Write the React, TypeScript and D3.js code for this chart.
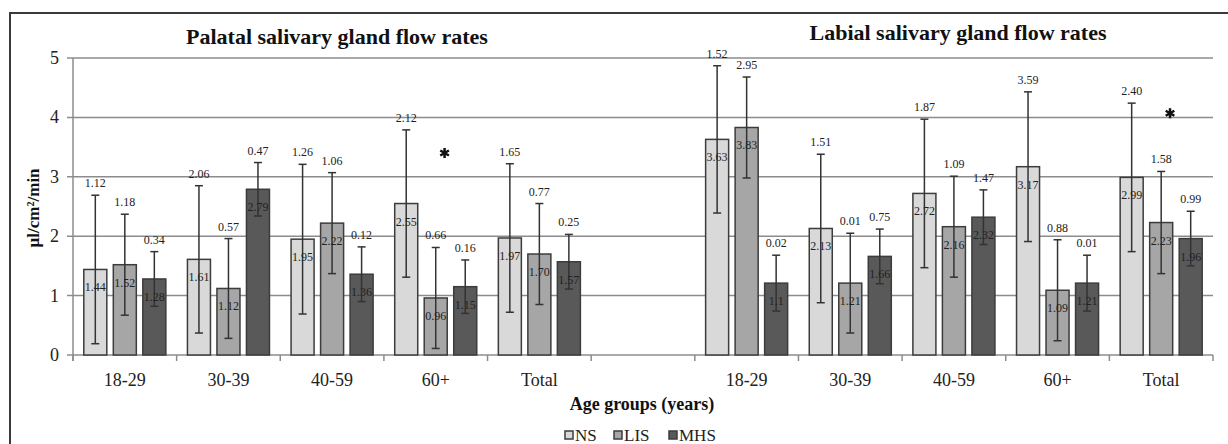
import React from "react";
import * as d3 from "d3";

const categories = ["18-29", "30-39", "40-59", "60+", "Total"];
const series = ["NS", "LIS", "MHS"];
const yTicks = [0, 1, 2, 3, 4, 5];

// Palatal
const palatalNS = [1.44, 1.61, 1.95, 2.55, 1.97];
const palatalLIS = [1.52, 1.12, 2.22, 0.96, 1.7];
const palatalMHS = [1.28, 2.79, 1.36, 1.15, 1.57];
const palatalNSErr = [1.25, 1.24, 1.26, 1.24, 1.25];
const palatalLISErr = [0.85, 0.84, 0.85, 0.85, 0.85];
const palatalMHSErr = [0.46, 0.45, 0.46, 0.45, 0.46];
const palatalNSSd = ["1.12", "2.06", "1.26", "2.12", "1.65"];
const palatalLISSd = ["1.18", "0.57", "1.06", "0.66", "0.77"];
const palatalMHSSd = ["0.34", "0.47", "0.12", "0.16", "0.25"];

// Labial
const labialNS = [3.63, 2.13, 2.72, 3.17, 2.99];
const labialLIS = [3.83, 1.21, 2.16, 1.09, 2.23];
const labialMHS = [1.21, 1.66, 2.32, 1.21, 1.96];
const labialNSErr = [1.24, 1.25, 1.25, 1.26, 1.25];
const labialLISErr = [0.85, 0.84, 0.85, 0.85, 0.86];
const labialMHSErr = [0.47, 0.46, 0.46, 0.47, 0.46];
const labialNSSd = ["1.52", "1.51", "1.87", "3.59", "2.40"];
const labialLISSd = ["2.95", "0.01", "1.09", "0.88", "1.58"];
const labialMHSSd = ["0.02", "0.75", "1.47", "0.01", "0.99"];
const labialMHSLabels = ["1.1", "1.66", "2.32", "1.21", "1.96"];

// significance markers: [panel, category, value]
const markers: [string, string, number][] = [
  ["P", "60+", 3.4],
  ["L", "Total", 4.07],
];

const colors = ["#d9d9d9", "#a6a6a6", "#595959"];

const W = 1228;
const H = 444;
const SERIF = "'Liberation Serif', 'Times New Roman', serif";

type Row = { key: string; cat: string; vals: number[]; errs: number[]; sds: string[]; labels: string[] };

function buildRows(prefix: string, a: number[], b: number[], c: number[], ea: number[], eb: number[], ec: number[], sa: string[], sb: string[], sc: string[], lc?: string[]): Row[] {
  return categories.map((cat, i) => ({
    key: prefix + ":" + cat,
    cat,
    vals: [a[i], b[i], c[i]],
    errs: [ea[i], eb[i], ec[i]],
    sds: [sa[i], sb[i], sc[i]],
    labels: [a[i].toFixed(2), b[i].toFixed(2), lc ? lc[i] : c[i].toFixed(2)],
  }));
}

const rows: Row[] = [
  ...buildRows("P", palatalNS, palatalLIS, palatalMHS, palatalNSErr, palatalLISErr, palatalMHSErr, palatalNSSd, palatalLISSd, palatalMHSSd),
  ...buildRows("L", labialNS, labialLIS, labialMHS, labialNSErr, labialLISErr, labialMHSErr, labialNSSd, labialLISSd, labialMHSSd, labialMHSLabels),
];
const slotKeys = [...categories.map((c) => "P:" + c), "gap", ...categories.map((c) => "L:" + c)];

export default function App() {
  const x = d3.scaleBand<string>().domain(slotKeys).range([73, 1213]).padding(0);
  const bw = x.bandwidth();
  const x1 = d3.scaleBand<string>().domain(series).range([0, bw]).paddingInner(0.22).paddingOuter(0.366);
  const y = d3.scaleLinear().domain([0, 5]).range([355, 58]);
  const barW = x1.bandwidth();
  const capW = 8;

  return (
    <svg width={W} height={H} style={{ position: "absolute", left: 0, top: 0, background: "#fff" }} fontFamily={SERIF}>
      <rect x={0} y={0} width={W} height={H} fill="#fff" />
      {/* outer frame */}
      <path d={`M10,${H + 5} L10,13 L${W + 5},13`} fill="none" stroke="#3a3a3a" strokeWidth={2} />

      {/* titles */}
      <text x={337} y={44} textAnchor="middle" fontSize={22} fontWeight="bold" fill="#111">
        Palatal salivary gland flow rates
      </text>
      <text x={958} y={40} textAnchor="middle" fontSize={22} fontWeight="bold" fill="#111">
        Labial salivary gland flow rates
      </text>

      {/* gridlines */}
      {yTicks.filter((t) => t > 0).map((t) => (
        <line key={t} x1={67} x2={1213} y1={y(t)} y2={y(t)} stroke="#8c8c8c" strokeWidth={1.5} />
      ))}
      {/* y axis */}
      <line x1={73} x2={73} y1={y(5)} y2={y(0) + 6} stroke="#8c8c8c" strokeWidth={1.5} />
      <line x1={67} x2={73} y1={y(0)} y2={y(0)} stroke="#8c8c8c" strokeWidth={1.5} />
      {yTicks.map((t) => (
        <text key={t} x={59} y={y(t) + 6} textAnchor="end" fontSize={18} fill="#222">
          {t}
        </text>
      ))}
      <text transform={`translate(39,208) rotate(-90)`} textAnchor="middle" fontSize={17} fontWeight="bold" fill="#111">
        µl/cm²/min
      </text>

      {/* x axis */}
      <line x1={73} x2={1213} y1={y(0)} y2={y(0)} stroke="#8c8c8c" strokeWidth={1.5} />
      {slotKeys.map((k) => (
        <line key={k} x1={x(k)!} x2={x(k)!} y1={y(0)} y2={y(0) + 6} stroke="#8c8c8c" strokeWidth={1.5} />
      ))}
      <line x1={1213} x2={1213} y1={y(0)} y2={y(0) + 6} stroke="#8c8c8c" strokeWidth={1.5} />

      {/* bars */}
      {rows.map((r) => (
        <g key={r.key} transform={`translate(${x(r.key)},0)`}>
          {series.map((s, i) => {
            const bx = x1(s)!;
            const cx = bx + barW / 2;
            const v = r.vals[i];
            const top = y(v + r.errs[i]);
            const bot = y(v - r.errs[i]);
            return (
              <g key={s}>
                <rect x={bx} y={y(v)} width={barW} height={y(0) - y(v)} fill={colors[i]} stroke="#3c3c3c" strokeWidth={1.5} />
                <line x1={cx} x2={cx} y1={top} y2={bot} stroke="#333" strokeWidth={1.5} />
                <line x1={cx - capW / 2} x2={cx + capW / 2} y1={top} y2={top} stroke="#333" strokeWidth={1.5} />
                <line x1={cx - capW / 2} x2={cx + capW / 2} y1={bot} y2={bot} stroke="#333" strokeWidth={1.5} />
                <text x={cx} y={top - 8} textAnchor="middle" fontSize={12} fill="#222">
                  {r.sds[i]}
                </text>
                <text x={cx} y={y(v) + 22} textAnchor="middle" fontSize={12} fill="#222">
                  {r.labels[i]}
                </text>
              </g>
            );
          })}
          <text x={bw / 2} y={386} textAnchor="middle" fontSize={18} fill="#222">
            {r.cat}
          </text>
        </g>
      ))}

      {/* significance markers */}
      {markers.map(([p, c, v]) => {
        const k = p + ":" + c;
        const mx = x(k)! + bw / 2 + x1.step() * 0.3;
        return (
          <path
            key={k}
            transform={`translate(${mx},${y(v)})`}
            d={d3.symbol(d3.symbolAsterisk, 70)()!}
            fill="none"
            stroke="#111"
            strokeWidth={2.5}
          />
        );
      })}

      {/* axis title */}
      <text x={642} y={410} textAnchor="middle" fontSize={18} fontWeight="bold" fill="#111">
        Age groups (years)
      </text>

      {/* legend */}
      {series.map((s, i) => {
        const lx = [565, 614, 669][i];
        return (
          <g key={s}>
            <rect x={lx} y={431} width={8} height={8} fill={colors[i]} stroke="#3c3c3c" strokeWidth={1.5} />
            <text x={lx + 10} y={441} fontSize={17} fill="#222">
              {s}
            </text>
          </g>
        );
      })}
    </svg>
  );
}
